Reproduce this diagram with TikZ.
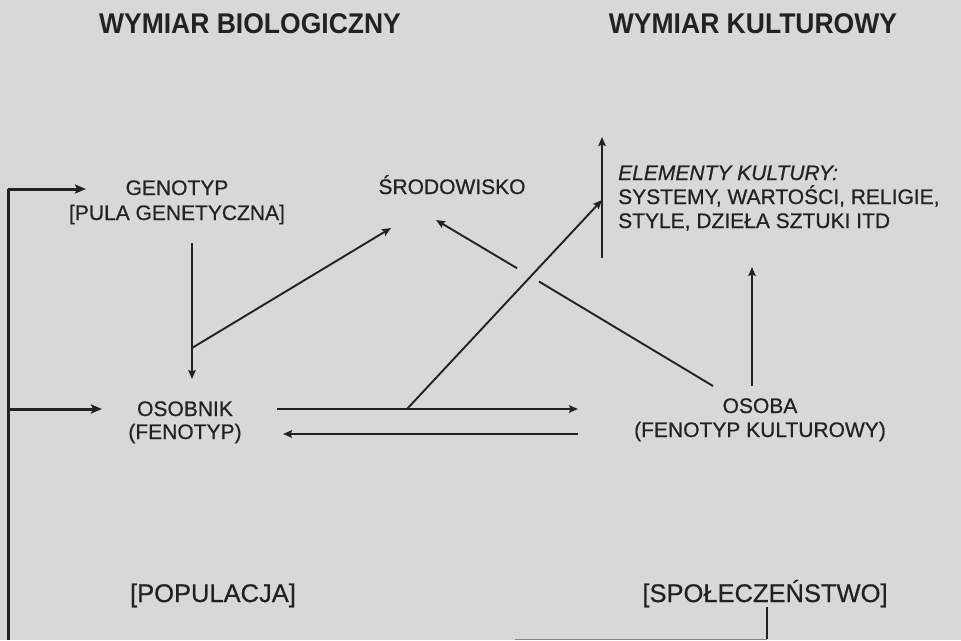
\documentclass[tikz,border=0pt]{standalone}
\usepackage{fontspec}
\setmainfont[FakeBold=0.6,ItalicFeatures={FakeSlant=0}]{Liberation Sans}
\newfontfamily\bodyfont[FakeBold=0.6]{Liberation Sans}
\newfontfamily\titlefont[FakeStretch=0.93]{Liberation Sans}
\usetikzlibrary{arrows.meta}
\definecolor{paper}{RGB}{216,216,214}
\definecolor{ink}{RGB}{34,34,34}
\tikzset{
  lbl/.style={anchor=base,inner sep=0pt,text=ink,font=\bodyfont\fontsize{21}{24}\selectfont},
  lblleft/.style={lbl,anchor=base west},
  ttl/.style={anchor=base,inner sep=0pt,text=ink,font=\titlefont\bfseries\fontsize{28.5}{32}\selectfont},
  big/.style={lbl,font=\bodyfont\fontsize{25.5}{28}\selectfont},
  thin/.style={draw=ink,line width=1.9pt,-{Stealth[length=9pt,width=7.5pt,inset=1.5pt]}},
  thinline/.style={draw=ink,line width=1.9pt},
  thick/.style={draw=ink,line width=3pt,-{Stealth[length=11pt,width=9pt,inset=2pt]}},
  thickline/.style={draw=ink,line width=3pt},
}
\begin{document}
\begin{tikzpicture}[x=1pt,y=-1pt]
\fill[paper] (0,0) rectangle (961,640);
\useasboundingbox (0,0) rectangle (961,640);

% titles
\node[ttl] (tbio) at (250,33) {WYMIAR BIOLOGICZNY};
\node[ttl] (tkul) at (753,33) {WYMIAR KULTUROWY};

% labels
\node[lbl] (genotyp) at (177,195) {GENOTYP};
\node[lbl] (pula) at (177,220) {[PULA GENETYCZNA]};
\node[lbl] (srod) at (452,194) {ŚRODOWISKO};
\node[lblleft] (elem) at (618,180) {\itshape ELEMENTY KULTURY:};
\node[lblleft] (syst) at (618,204) {SYSTEMY, WARTOŚCI, RELIGIE,};
\node[lblleft] (styl) at (618,228) {STYLE, DZIEŁA SZTUKI ITD};
\node[lbl] (osobnik) at (185,416) {OSOBNIK};
\node[lbl] (fenotyp) at (185,439) {(FENOTYP)};
\node[lbl] (osoba) at (760,413) {OSOBA};
\node[lbl] (fenkul) at (760,437) {(FENOTYP KULTUROWY)};
\node[big] (popul) at (213,602) {[POPULACJA]};
\node[big] (spol) at (765,602) {[SPOŁECZEŃSTWO]};

% coordinates
\coordinate (barTop) at (8,189);
\coordinate (barMid) at (8,409);
\coordinate (barBot) at (8,640);
\coordinate (genTip) at (86,189);
\coordinate (osbTip) at (102,409);
\coordinate (gA) at (192,243);
\coordinate (gB) at (192,379);
\coordinate (gMid) at (192,348);
\coordinate (srodTipL) at (391,228);
\coordinate (hUpA) at (277,409);
\coordinate (hUpB) at (578,409);
\coordinate (hLoA) at (578,434);
\coordinate (hLoB) at (283,434);
\coordinate (dStart) at (407,409);
\coordinate (dTip) at (602,200);
\coordinate (vA) at (602,258);
\coordinate (vB) at (602,137);
\coordinate (oStart) at (713,386);
\coordinate (oGapA) at (539,281.5);
\coordinate (oGapB) at (517,268.2);
\coordinate (srodTipR) at (436,220);
\coordinate (oUpA) at (752,386);
\coordinate (oUpB) at (752,267);
\coordinate (sA) at (767,607);
\coordinate (sB) at (767,639);
\coordinate (sC) at (515,639);

% left bar
\draw[thickline] (barTop) -- (barBot);
\draw[thick] (barTop) -- (genTip);
\draw[thick] (barMid) -- (osbTip);

% biological
\draw[thin] (gA) -- (gB);
\draw[thin] (gMid) -- (srodTipL);
\draw[thin] (hUpA) -- (hUpB);
\draw[thin] (hLoA) -- (hLoB);

% cultural
\draw[thin] (dStart) -- (dTip);
\draw[thin] (vA) -- (vB);
\draw[thinline] (oStart) -- (oGapA);
\draw[thin] (oGapB) -- (srodTipR);
\draw[thin] (oUpA) -- (oUpB);

% bottom bracket
\draw[draw=ink,line width=2.2pt] (sA) -- (sB);
\draw[draw=ink!55,line width=0.7pt] (sB) -- (sC);
\end{tikzpicture}
\end{document}
